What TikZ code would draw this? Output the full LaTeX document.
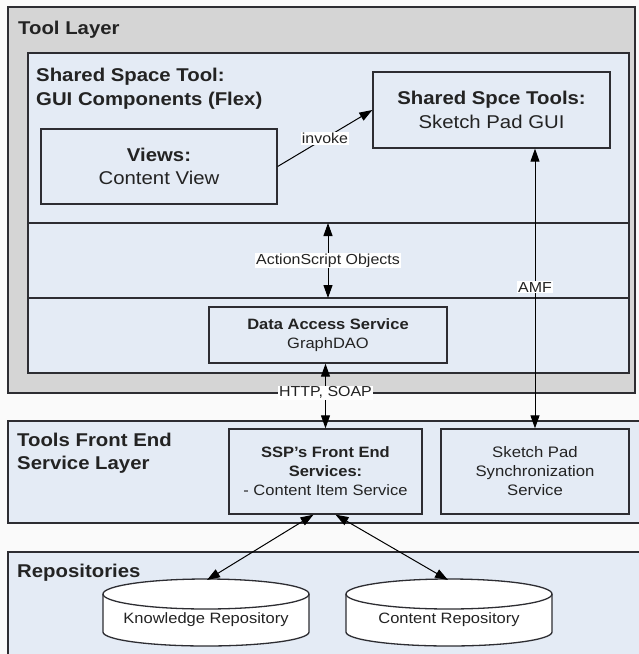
\documentclass[tikz,border=0pt]{standalone}
\usepackage{fontspec}
\setmainfont{Liberation Sans}[FakeStretch=1.1]
\usetikzlibrary{arrows.meta}
\definecolor{greyfill}{RGB}{213,213,213}
\definecolor{bluefill}{RGB}{228,235,245}
\definecolor{edgec}{RGB}{45,45,50}
\definecolor{txt}{RGB}{35,35,35}
\begin{document}
\begin{tikzpicture}[x=1pt,y=1pt,
  layerbox/.style={draw=edgec, line width=1.3pt},
  box/.style={draw=edgec, line width=1.3pt, fill=bluefill, align=center, inner sep=0pt, text=txt},
  arr/.style={draw=black, line width=1pt, -{Triangle[length=13pt,width=9pt]}},
  darr/.style={draw=black, line width=1pt, {Triangle[length=13pt,width=9pt]}-{Triangle[length=13pt,width=9pt]}},
  lbl/.style={fill=white, inner sep=1.2pt, text=txt, font=\fontsize{14.5}{17}\selectfont},
  title/.style={anchor=west, align=left, inner sep=0pt, text=txt, font=\bfseries\fontsize{18.5}{23.5}\selectfont},
  cyl/.style={draw=edgec, line width=1.3pt, fill=white}
]
\useasboundingbox (0,0) rectangle (639,-654);
\fill[white!98!black] (0,0) rectangle (639,-654);

% Tool layer
\draw[layerbox, fill=greyfill] (8,-7) rectangle (635,-393);
\node[title] (tl) at (18,-30) {Tool Layer};
\draw[layerbox, fill=bluefill] (28,-53) rectangle (629,-373);
\draw[layerbox] (28,-223) -- (629,-223);
\draw[layerbox] (28,-298) -- (629,-298);
\node[title] (sst) at (36,-88.5) {Shared Space Tool:\\GUI Components (Flex)};

\node[box, minimum width=236pt, minimum height=75pt, font=\fontsize{18.5}{23.5}\selectfont] (views) at (159,-166.5) {\textbf{Views:}\\Content View};
\node[box, minimum width=237pt, minimum height=76pt, font=\fontsize{18.5}{23.5}\selectfont] (spce) at (491.5,-110) {\textbf{Shared Spce Tools:}\\Sketch Pad GUI};
\node[box, minimum width=238pt, minimum height=56pt, font=\fontsize{15}{19}\selectfont] (das) at (328,-335) {\textbf{Data Access Service}\\GraphDAO};

% Tools front end layer
\draw[layerbox, fill=bluefill] (8,-421) rectangle (645,-523);
\node[title] (tfe) at (17,-453) {Tools Front End\\Service Layer};
\node[box, minimum width=193pt, minimum height=85pt, font=\fontsize{15}{19}\selectfont] (ssp) at (325.5,-471.5) {\textbf{SSP's Front End}\\\textbf{Services:}\\- Content Item Service};
\node[box, minimum width=188pt, minimum height=85pt, font=\fontsize{15.2}{19}\selectfont] (sync) at (535,-471.5) {Sketch Pad\\Synchronization\\Service};

% Repositories layer
\draw[layerbox, fill=bluefill] (8,-552) rectangle (645,-660);
\node[title] (rep) at (17,-573) {Repositories};

\foreach \cx in {206,449}{
  \path[cyl] (\cx-103,-594) -- (\cx-103,-632)
     arc[start angle=180, end angle=360, x radius=103pt, y radius=14pt]
     -- (\cx+103,-594)
     arc[start angle=0, end angle=180, x radius=103pt, y radius=15pt] -- cycle;
  \draw[draw=edgec, line width=1.3pt] (\cx-103,-594)
     arc[start angle=180, end angle=360, x radius=103pt, y radius=15pt];
}
\node[text=txt, font=\fontsize{15}{18}\selectfont] (kr) at (206,-620) {Knowledge Repository};
\node[text=txt, font=\fontsize{15}{18}\selectfont] (cr) at (449,-620) {Content Repository};
\coordinate (krtop) at (207,-580);
\coordinate (crtop) at (448,-580);

% Connectors
\draw[arr] (views.east) -- node[lbl] {invoke} (spce.west);
\coordinate (d1) at (328,-223);
\coordinate (d2) at (328,-298);
\draw[darr] (d1) -- node[lbl] {ActionScript Objects} (d2);
\draw[darr] (sync.north) -- node[lbl, pos=0.505] {AMF} (sync.north |- spce.south);
\draw[darr] (das.south -| ssp.north) -- node[lbl, pos=0.45] {HTTP, SOAP} (ssp.north);
\draw[darr] ([xshift=-12pt]ssp.south) -- (krtop);
\draw[darr] ([xshift=10pt]ssp.south) -- (crtop);
\end{tikzpicture}
\end{document}
